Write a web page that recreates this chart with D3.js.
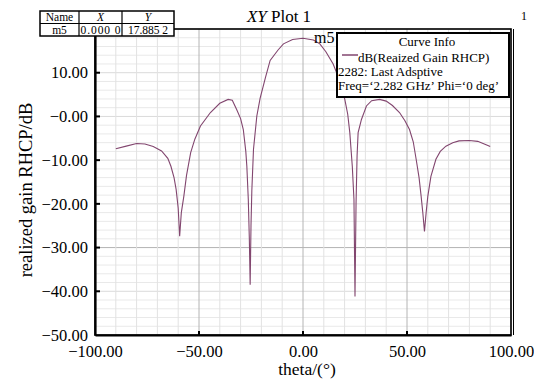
<!DOCTYPE html>
<html>
<head>
<meta charset="utf-8">
<script src="https://cdn.jsdelivr.net/npm/d3@7"></script>
<style>
  body { margin: 0; background: #fff; }
  svg { display: block; }
  svg text { font-family: "Liberation Serif", "Times New Roman", serif; }
</style>
</head>
<body>
<div id="chart"></div>
<script>
// curve: dB(Realized Gain RHCP), Phi = 0 deg
var theta = [-90, -85, -80, -76, -72, -68, -65, -63.5, -62, -61, -60, -59.3, -58.5, -57.3, -56, -54, -52, -49.3,
  -44.5, -40, -36, -34, -31.9, -30, -28.7, -27.5, -27, -26.3, -25.8, -25.4, -25, -24.6, -23.8, -22.2, -20.6,
  -18, -15.8, -12, -9.4, -5, 0, 5, 8.1, 11, 14.5, 17, 18.5, 20.1, 21.5, 22.5, 23.7, 24.5, 25, 25.5, 26, 26.5,
  28.1, 30.5, 33, 36.8, 40, 43, 46.4, 49, 51.2, 53, 54.4, 55.8, 56.8, 57.6, 58.4, 59.2, 60, 61.5, 63.9, 66,
  68.7, 72, 75, 80, 84, 88.6, 90]
var gain = [-7.4, -6.8, -6.2, -6.3, -6.9, -7.9, -9.6, -11.4, -14, -16.7, -21, -27.4, -22, -18.3, -13.5, -8.3, -5.2, -2.2,
  0.9, 3.0, 3.9, 3.7, 1.6, -0.5, -3.0, -8, -11.4, -19, -28, -38.5, -25, -17, -7.5, 0.1, 4.2,
  9, 12.8, 15.2, 16.6, 17.6, 17.885, 17.5, 16.6, 14.8, 12, 9, 6.7, 3.9, 0.5, -3.7, -11.4, -19, -41.2, -20, -9, -3.7,
  -0.7, 2.4, 3.6, 3.9, 3.5, 2.5, 0.9, -1, -3.0, -5.8, -9.8, -14, -18.3, -22, -26.3, -22, -18.3, -13.7, -9.8, -8,
  -6.8, -6.0, -5.6, -5.5, -5.7, -6.6, -6.9]

var xTicks = [-100, -50, 0, 50, 100]
var yTicks = [-50, -40, -30, -20, -10, 0, 10]

var markerName = "m5"
var markerX = 0.0
var markerY = 17.8852

var legendLines = ["dB(Reaized Gain RHCP)", "2282: Last Adsptive", "Freq=\u20182.282 GHz\u2019  Phi=\u20180 deg\u2019"]

var svgWidth = 534;
var svgHeight = 379;

var margin = { top: 29, right: 23, bottom: 44, left: 95 };
var chartWidth = svgWidth - margin.left - margin.right;
var chartHeight = svgHeight - margin.top - margin.bottom;

var svg = d3.select("#chart").append("svg")
  .attr("width", svgWidth)
  .attr("height", svgHeight);

var chartGroup = svg.append("g")
  .attr("transform", `translate(${margin.left},${margin.top})`);

var xScale = d3.scaleLinear().domain([-100, 100]).range([0, chartWidth]);
var yScale = d3.scaleLinear().domain([-50, 20]).range([chartHeight, 0]);

// grid
var gx = d3.range(-100, 101, 10);
var gy = d3.range(-50, 21, 2);

chartGroup.selectAll(".gy").data(gy).enter().append("line")
  .attr("x1", 0).attr("x2", chartWidth)
  .attr("y1", d => yScale(d)).attr("y2", d => yScale(d))
  .attr("stroke", d => d == -30 ? "#b4b4b4" : (d % 10 == 0 ? "#dadada" : "#e9e9e9"))
  .attr("stroke-width", 1);

chartGroup.selectAll(".gx").data(gx).enter().append("line")
  .attr("y1", 0).attr("y2", chartHeight)
  .attr("x1", d => xScale(d)).attr("x2", d => xScale(d))
  .attr("stroke", d => d % 50 == 0 ? "#b4b4b4" : "#e2e2e2")
  .attr("stroke-width", 1);

// frame
chartGroup.append("rect")
  .attr("x", 0).attr("y", 0)
  .attr("width", chartWidth).attr("height", chartHeight)
  .attr("fill", "none").attr("stroke", "#000").attr("stroke-width", 1.6);
chartGroup.append("line")
  .attr("x1", chartWidth + 2.5).attr("x2", chartWidth + 2.5)
  .attr("y1", 0).attr("y2", chartHeight)
  .attr("stroke", "#000").attr("stroke-width", 1);

// axes
var bottomAxis = d3.axisBottom(xScale).tickValues(xTicks).tickSize(0).tickPadding(10)
  .tickFormat(d => (d < 0 ? "\u2212" : "") + Math.abs(d).toFixed(2));
var leftAxis = d3.axisLeft(yScale).tickValues(yTicks).tickSize(0).tickPadding(7)
  .tickFormat(d => (d <= 0 ? "\u2212" : "") + Math.abs(d).toFixed(2));

var xg = chartGroup.append("g")
  .attr("transform", `translate(0,${chartHeight})`)
  .call(bottomAxis);
var yg = chartGroup.append("g").call(leftAxis);

[xg, yg].forEach(function(g) {
  g.attr("font-family", null);
  g.select(".domain").attr("stroke", "#000").attr("stroke-width", 2.2);
  g.selectAll("text").attr("font-size", 16.5).attr("fill", "#000");
});

// inner ticks
chartGroup.selectAll(".ty").data(yTicks.filter(d => d > -50)).enter().append("line")
  .attr("x1", 0).attr("x2", 5)
  .attr("y1", d => yScale(d)).attr("y2", d => yScale(d))
  .attr("stroke", "#000").attr("stroke-width", 2);
chartGroup.selectAll(".tx").data(xTicks.filter(d => d > -100 && d < 100)).enter().append("line")
  .attr("y1", chartHeight).attr("y2", chartHeight - 4)
  .attr("x1", d => xScale(d)).attr("x2", d => xScale(d))
  .attr("stroke", "#000").attr("stroke-width", 2);

// curve
var line = d3.line()
  .x((d, i) => xScale(theta[i]))
  .y(d => yScale(d));

chartGroup.append("path")
  .datum(gain)
  .attr("d", line)
  .attr("fill", "none")
  .attr("stroke", "#82466f")
  .attr("stroke-width", 1.1);

// axis titles
svg.append("text")
  .attr("x", 307).attr("y", 375)
  .attr("text-anchor", "middle")
  .attr("font-size", 17.5)
  .text("theta/(\u00b0)");

svg.append("text")
  .attr("transform", "translate(32,190) rotate(-90)")
  .attr("text-anchor", "middle")
  .attr("font-size", 18.5)
  .text("realized gain RHCP/dB");

// title
var title = svg.append("text")
  .attr("x", 279).attr("y", 22)
  .attr("text-anchor", "middle")
  .attr("font-size", 17);
title.append("tspan").attr("font-style", "italic").text("XY");
title.append("tspan").text(" Plot 1");

svg.append("text")
  .attr("x", 521).attr("y", 20)
  .attr("font-size", 12)
  .text("1");

// marker label
chartGroup.append("text")
  .attr("x", xScale(markerX) + 11).attr("y", yScale(markerY) + 5)
  .attr("font-size", 16)
  .text(markerName);

// marker table
var tbl = svg.append("g").attr("transform", "translate(40,11)");
var cols = [0, 39, 82, 134];
tbl.append("rect").attr("x", 0).attr("y", 0).attr("width", 134).attr("height", 25)
  .attr("fill", "#fff").attr("stroke", "#000").attr("stroke-width", 1.5);
tbl.append("line").attr("x1", 0).attr("x2", 134).attr("y1", 12.5).attr("y2", 12.5)
  .attr("stroke", "#000").attr("stroke-width", 1.2);
[39, 82].forEach(function(c) {
  tbl.append("line").attr("x1", c).attr("x2", c).attr("y1", 0).attr("y2", 25)
    .attr("stroke", "#000").attr("stroke-width", 1.2);
});
var head = ["Name", "X", "Y"];
var vals = [markerName, markerX.toFixed(4).replace(/(\d{3})(\d)$/, "$1 $2"), markerY.toFixed(4).replace(/(\d{3})(\d)$/, "$1 $2")];
head.forEach(function(h, i) {
  tbl.append("text")
    .attr("x", (cols[i] + cols[i + 1]) / 2).attr("y", 10)
    .attr("text-anchor", "middle").attr("font-size", 11.5)
    .attr("font-style", i > 0 ? "italic" : "normal")
    .text(h);
  tbl.append("text")
    .attr("x", (cols[i] + cols[i + 1]) / 2).attr("y", 23)
    .attr("text-anchor", "middle").attr("font-size", 11.5)
    .attr("textLength", i > 0 ? 40 : null)
    .text(vals[i]);
});

// legend
var lg = svg.append("g").attr("transform", "translate(337,33)");
lg.append("rect").attr("width", 172).attr("height", 64)
  .attr("fill", "#fff").attr("stroke", "#000").attr("stroke-width", 2);
lg.append("text").attr("x", 90).attr("y", 12.5)
  .attr("text-anchor", "middle").attr("font-size", 13).text("Curve Info");
lg.append("line").attr("x1", 5).attr("x2", 21).attr("y1", 22).attr("y2", 22)
  .attr("stroke", "#82466f").attr("stroke-width", 1.5);
lg.append("text").attr("x", 21).attr("y", 28.5).attr("font-size", 13).text(legendLines[0]);
lg.append("text").attr("x", 1).attr("y", 43).attr("font-size", 13).text(legendLines[1]);
lg.append("text").attr("x", 1).attr("y", 57).attr("font-size", 13).text(legendLines[2]);
</script>
</body>
</html>
